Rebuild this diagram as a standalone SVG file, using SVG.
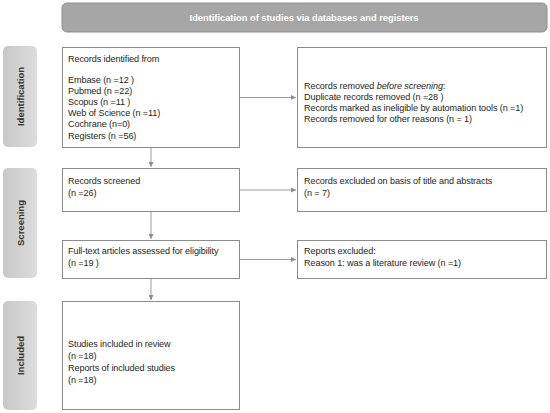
<svg xmlns="http://www.w3.org/2000/svg" width="550" height="413" viewBox="0 0 550 413">
<defs>
<linearGradient id="side" x1="0" y1="0" x2="1" y2="0">
<stop offset="0" stop-color="#c8c8c8"/>
<stop offset="1" stop-color="#dcdcdc"/>
</linearGradient>
<marker id="ah" viewBox="0 0 6 6" refX="6" refY="3" markerWidth="5" markerHeight="5" orient="auto" markerUnits="userSpaceOnUse">
<path d="M0,0 L6,3 L0,6 z" fill="#8c8c8c"/>
</marker>
</defs>
<style>
.box{fill:#fff;stroke:#8c8c8c;stroke-width:1}
.side{fill:url(#side);stroke:none}
.t{font-family:"Liberation Sans",Arial,sans-serif;font-size:9.1px;fill:#262626;letter-spacing:-0.1px}
.s{font-family:"Liberation Sans",Arial,sans-serif;font-size:9.5px;font-weight:bold;fill:#333;text-anchor:middle}
.h{font-family:"Liberation Sans",Arial,sans-serif;font-size:9.3px;font-weight:bold;fill:#fff;text-anchor:middle}
.c{stroke:#9a9a9a;stroke-width:1;fill:none;marker-end:url(#ah)}
</style>
<rect width="550" height="413" fill="#fff"/>
<g id="header">
<rect x="62" y="3" width="485" height="29" rx="5" fill="#a6a6a6" stroke="#909090"/>
<text class="h" x="304" y="21">Identification of studies via databases and registers</text>
</g>
<g id="label-identification">
<rect class="side" x="3" y="46" width="34" height="101" rx="5"/>
<text class="s" transform="translate(23.5,96.5) rotate(-90)">Identification</text>
</g>
<g id="label-screening">
<rect class="side" x="3" y="168" width="34" height="110" rx="5"/>
<text class="s" transform="translate(23.5,223) rotate(-90)">Screening</text>
</g>
<g id="label-included">
<rect class="side" x="3" y="301" width="34" height="109" rx="5"/>
<text class="s" transform="translate(23.5,355.5) rotate(-90)">Included</text>
</g>
<g id="records-identified">
<rect class="box" x="62.5" y="47.5" width="177" height="100"/>
<text class="t" x="68" y="62">Records identified from</text>
<text class="t" x="68" y="83">Embase (n =12 )</text>
<text class="t" x="68" y="94">Pubmed (n =22)</text>
<text class="t" x="68" y="105">Scopus (n =11 )</text>
<text class="t" x="68" y="116">Web of Science (n =11)</text>
<text class="t" x="68" y="127">Cochrane (n=0)</text>
<text class="t" x="68" y="138.5">Registers (n =56)</text>
</g>
<g id="records-removed">
<rect class="box" x="297.5" y="47.5" width="249" height="100"/>
<text class="t" x="304" y="89">Records removed <tspan font-style="italic">before screening</tspan>:</text>
<text class="t" x="304" y="100">Duplicate records removed  (n =28 )</text>
<text class="t" x="304" y="111">Records marked as ineligible by automation tools (n =1)</text>
<text class="t" x="304" y="122">Records removed for other reasons (n = 1)</text>
</g>
<g id="records-screened">
<rect class="box" x="62.5" y="168.5" width="177" height="43"/>
<text class="t" x="68" y="184">Records screened</text>
<text class="t" x="68" y="196">(n =26)</text>
</g>
<g id="records-excluded">
<rect class="box" x="297.5" y="168.5" width="249" height="43"/>
<text class="t" x="304" y="184">Records excluded on basis of title and abstracts</text>
<text class="t" x="304" y="196">(n = 7)</text>
</g>
<g id="fulltext">
<rect class="box" x="62.5" y="240.5" width="177" height="38"/>
<text class="t" x="68" y="254">Full-text articles assessed for eligibility</text>
<text class="t" x="68" y="266">(n =19 )</text>
</g>
<g id="reports-excluded">
<rect class="box" x="297.5" y="240.5" width="249" height="38"/>
<text class="t" x="304" y="254">Reports excluded:</text>
<text class="t" x="304" y="266">Reason 1: was a literature review (n =1)</text>
</g>
<g id="included">
<rect class="box" x="62.5" y="301.5" width="177" height="108"/>
<text class="t" x="68" y="347">Studies included in review</text>
<text class="t" x="68" y="359">(n =18)</text>
<text class="t" x="68" y="371">Reports of included studies</text>
<text class="t" x="68" y="383">(n =18)</text>
</g>
<g id="connectors">
<path class="c" d="M240,97.5 H296"/>
<path class="c" d="M240,190 H296"/>
<path class="c" d="M240,259.5 H296"/>
<path class="c" d="M151,148 V167"/>
<path class="c" d="M151,212 V239"/>
<path class="c" d="M151,279 V300"/>
</g>
</svg>
